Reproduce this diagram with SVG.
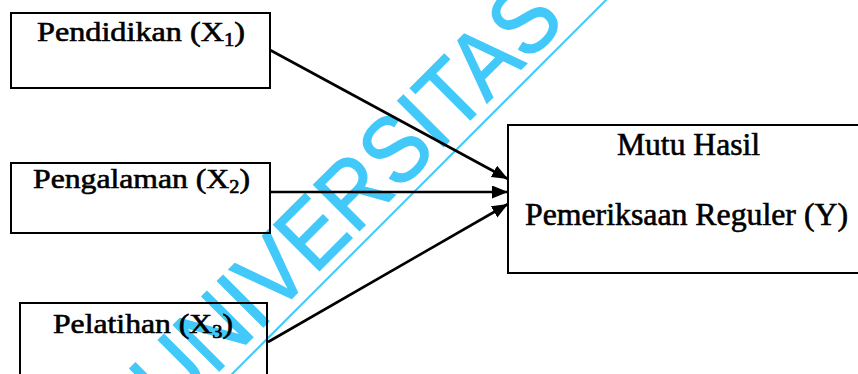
<svg xmlns="http://www.w3.org/2000/svg" width="858" height="374" viewBox="0 0 858 374">
  <style>
    .box { fill: none; stroke: #000; stroke-width: 2; }
    .lbl { font-family: "Liberation Serif", "Times New Roman", serif; fill: #000; stroke: #000; stroke-width: 0.6; }
    .conn { stroke: #000; stroke-width: 2.6; fill: none; }
    .wm { font-family: "Liberation Sans", Arial, sans-serif; fill: #42C9F9; stroke: #42C9F9; stroke-width: 1.5; }
  </style>
  <defs>
    <marker id="arrow" markerUnits="userSpaceOnUse" markerWidth="18" markerHeight="14" refX="16" refY="6.5" orient="auto">
      <path d="M0,0 L16,6.5 L0,13 z" fill="#000"/>
    </marker>
  </defs>
  <rect width="858" height="374" fill="#fff"/>

  <!-- watermark -->
  <text class="wm" font-size="94" textLength="560" lengthAdjust="spacingAndGlyphs" transform="translate(171,419) rotate(-45)">UNIVERSITAS</text>
  <line x1="230" y1="376" x2="608" y2="-2" stroke="#42C9F9" stroke-width="2"/>

  <g id="connectors">
    <line class="conn" x1="270" y1="50" x2="508" y2="179" marker-end="url(#arrow)"/>
    <line class="conn" x1="270" y1="192" x2="508" y2="192" marker-end="url(#arrow)"/>
    <line class="conn" x1="268" y1="342" x2="508" y2="204" marker-end="url(#arrow)"/>
  </g>

  <g id="node-x1">
    <rect class="box" x="11" y="13" width="259" height="75"/>
    <text class="lbl" x="37" y="41" font-size="28" textLength="208" lengthAdjust="spacingAndGlyphs">Pendidikan (X<tspan font-size="18" dy="5">1</tspan><tspan dy="-5">)</tspan></text>
  </g>

  <g id="node-x2">
    <rect class="box" x="11" y="163" width="259" height="70"/>
    <text class="lbl" x="33" y="188" font-size="28" textLength="217" lengthAdjust="spacingAndGlyphs">Pengalaman (X<tspan font-size="18" dy="5">2</tspan><tspan dy="-5">)</tspan></text>
  </g>

  <g id="node-x3">
    <rect class="box" x="20" y="303" width="247" height="80"/>
    <text class="lbl" x="53" y="333" font-size="28" textLength="180" lengthAdjust="spacingAndGlyphs">Pelatihan (X<tspan font-size="18" dy="5">3</tspan><tspan dy="-5">)</tspan></text>
  </g>

  <g id="node-y">
    <rect class="box" x="508" y="125" width="360" height="148"/>
    <text class="lbl" x="617" y="155" font-size="31" textLength="143" lengthAdjust="spacingAndGlyphs">Mutu Hasil</text>
    <text class="lbl" x="525" y="225" font-size="31" textLength="323" lengthAdjust="spacingAndGlyphs">Pemeriksaan Reguler (Y)</text>
  </g>
</svg>
